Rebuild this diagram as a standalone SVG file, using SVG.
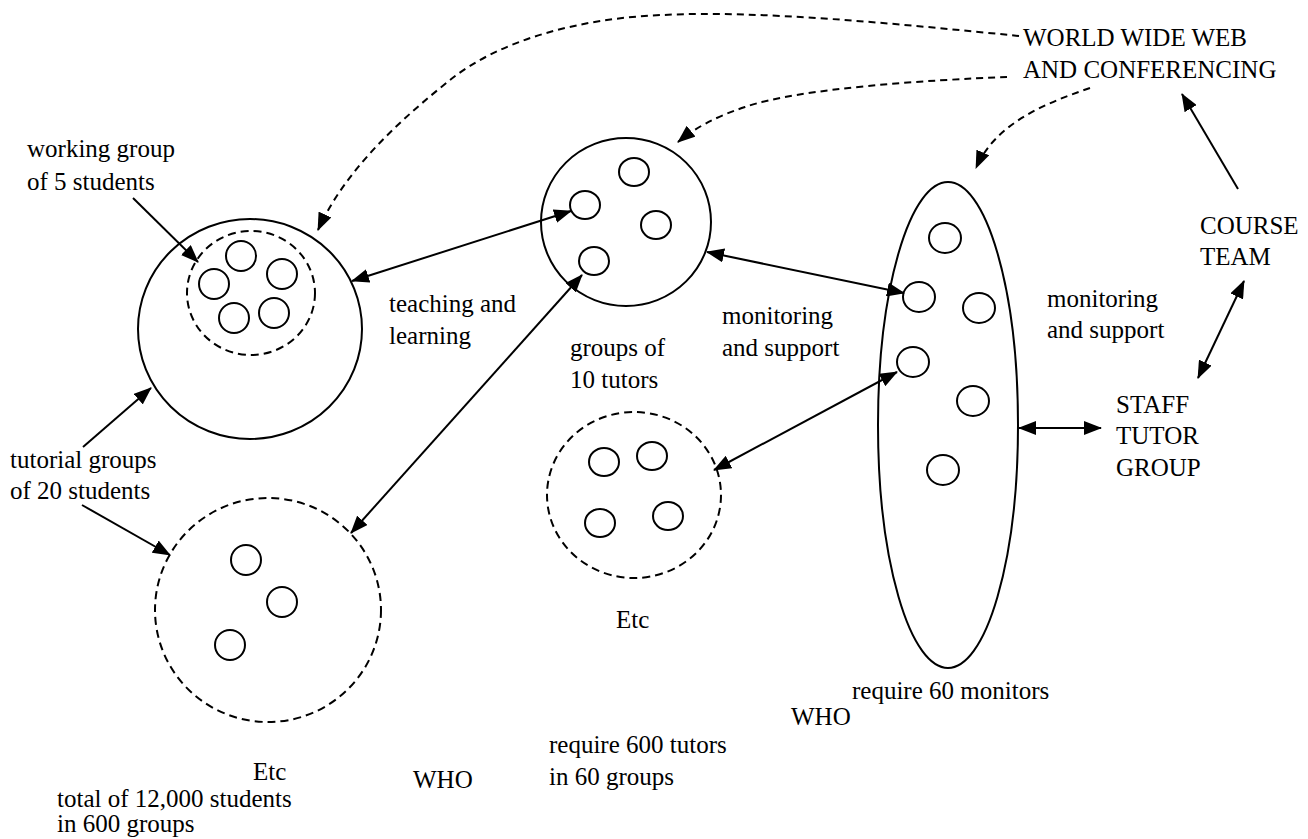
<svg xmlns="http://www.w3.org/2000/svg" width="1308" height="839" viewBox="0 0 1308 839">
<style>
text{font-family:"Liberation Serif","Times New Roman",serif;font-size:25px;fill:#000}
.c{fill:none;stroke:#000;stroke-width:2}
.d{fill:none;stroke:#000;stroke-width:2;stroke-dasharray:8 5}
.a{fill:none;stroke:#000;stroke-width:2}
.da{fill:none;stroke:#000;stroke-width:2;stroke-dasharray:7 5}
</style>
<defs>
<marker id="ah" markerUnits="userSpaceOnUse" markerWidth="18" markerHeight="14" refX="17" refY="7" orient="auto-start-reverse">
<path d="M0,0 L18,7 L0,14 z" fill="#000"/>
</marker>
</defs>
<rect width="1308" height="839" fill="#fff"/>

<g id="tutorial-group">
<ellipse class="c" cx="250" cy="329" rx="112" ry="110"/>
</g>
<g id="working-group">
<ellipse class="d" cx="251" cy="293" rx="64" ry="62"/>
<ellipse class="c" cx="241" cy="256" rx="15" ry="15"/>
<ellipse class="c" cx="214" cy="284" rx="15" ry="15"/>
<ellipse class="c" cx="282" cy="274" rx="15" ry="15"/>
<ellipse class="c" cx="234" cy="318" rx="15" ry="15"/>
<ellipse class="c" cx="274" cy="313" rx="15" ry="15"/>
</g>
<g id="tutor-group">
<ellipse class="c" cx="626" cy="222" rx="85" ry="84"/>
<ellipse class="c" cx="634" cy="172" rx="15" ry="14"/>
<ellipse class="c" cx="585" cy="205" rx="15" ry="14"/>
<ellipse class="c" cx="656" cy="225" rx="15" ry="14"/>
<ellipse class="c" cx="594" cy="261" rx="15" ry="14"/>
</g>
<g id="monitor-group">
<ellipse class="c" cx="948" cy="425" rx="70" ry="243"/>
<ellipse class="c" cx="945" cy="238" rx="16" ry="15"/>
<ellipse class="c" cx="919" cy="297" rx="16" ry="15"/>
<ellipse class="c" cx="979" cy="308" rx="16" ry="15"/>
<ellipse class="c" cx="913" cy="362" rx="16" ry="15"/>
<ellipse class="c" cx="973" cy="401" rx="16" ry="15"/>
<ellipse class="c" cx="943" cy="470" rx="16" ry="15"/>
</g>
<g id="tutorial-group-etc">
<ellipse class="d" cx="268" cy="610" rx="113" ry="112"/>
<ellipse class="c" cx="246" cy="560" rx="15" ry="15"/>
<ellipse class="c" cx="282" cy="602" rx="15" ry="15"/>
<ellipse class="c" cx="230" cy="645" rx="15" ry="15"/>
</g>
<g id="tutor-group-etc">
<ellipse class="d" cx="634" cy="495" rx="87" ry="83"/>
<ellipse class="c" cx="604" cy="462" rx="15" ry="14"/>
<ellipse class="c" cx="652" cy="456" rx="15" ry="14"/>
<ellipse class="c" cx="668" cy="516" rx="15" ry="14"/>
<ellipse class="c" cx="600" cy="523" rx="15" ry="14"/>
</g>

<g id="connectors">
<path class="da" d="M1019,36 C900,24 760,10 663,15 C580,18 500,40 450,80 C400,120 345,170 318,230" marker-end="url(#ah)"/>
<path class="da" d="M1007,77 C930,80 800,88 745,107 C715,117 695,128 678,142" marker-end="url(#ah)"/>
<path class="da" d="M1090,88 C1040,105 995,125 976,168" marker-end="url(#ah)"/>
<line class="a" x1="133" y1="198" x2="198" y2="262" marker-end="url(#ah)"/>
<line class="a" x1="352" y1="281" x2="571" y2="211" marker-start="url(#ah)" marker-end="url(#ah)"/>
<line class="a" x1="351" y1="533" x2="582" y2="275" marker-start="url(#ah)" marker-end="url(#ah)"/>
<line class="a" x1="707" y1="252" x2="904" y2="293" marker-start="url(#ah)" marker-end="url(#ah)"/>
<line class="a" x1="714" y1="470" x2="897" y2="372" marker-start="url(#ah)" marker-end="url(#ah)"/>
<line class="a" x1="1019" y1="428" x2="1101" y2="428" marker-start="url(#ah)" marker-end="url(#ah)"/>
<line class="a" x1="1244" y1="281" x2="1198" y2="378" stroke-width="1.5" marker-start="url(#ah)" marker-end="url(#ah)"/>
<line class="a" x1="1238" y1="189" x2="1182" y2="94" marker-end="url(#ah)"/>
<line class="a" x1="83" y1="447" x2="151" y2="388" stroke-width="1.5" marker-end="url(#ah)"/>
<line class="a" x1="82" y1="505" x2="170" y2="555" marker-end="url(#ah)"/>
</g>

<g id="labels">
<text x="1023" y="46">WORLD WIDE WEB</text>
<text x="1023" y="78">AND CONFERENCING</text>
<text x="27" y="157">working group</text>
<text x="27" y="190">of 5 students</text>
<text x="1200" y="234">COURSE</text>
<text x="1200" y="265">TEAM</text>
<text x="389" y="312">teaching and</text>
<text x="389" y="344">learning</text>
<text x="722" y="324">monitoring</text>
<text x="722" y="356">and support</text>
<text x="1047" y="307">monitoring</text>
<text x="1047" y="338">and support</text>
<text x="570" y="356">groups of</text>
<text x="570" y="388">10 tutors</text>
<text x="1116" y="413">STAFF</text>
<text x="1116" y="444">TUTOR</text>
<text x="1116" y="476">GROUP</text>
<text x="10" y="468">tutorial groups</text>
<text x="10" y="499">of 20 students</text>
<text x="616" y="628">Etc</text>
<text x="253" y="780">Etc</text>
<text x="852" y="699">require 60 monitors</text>
<text x="791" y="725">WHO</text>
<text x="549" y="753">require 600 tutors</text>
<text x="549" y="785">in 60 groups</text>
<text x="413" y="788">WHO</text>
<text x="57" y="807">total of 12,000 students</text>
<text x="57" y="832">in 600 groups</text>
</g>
</svg>
